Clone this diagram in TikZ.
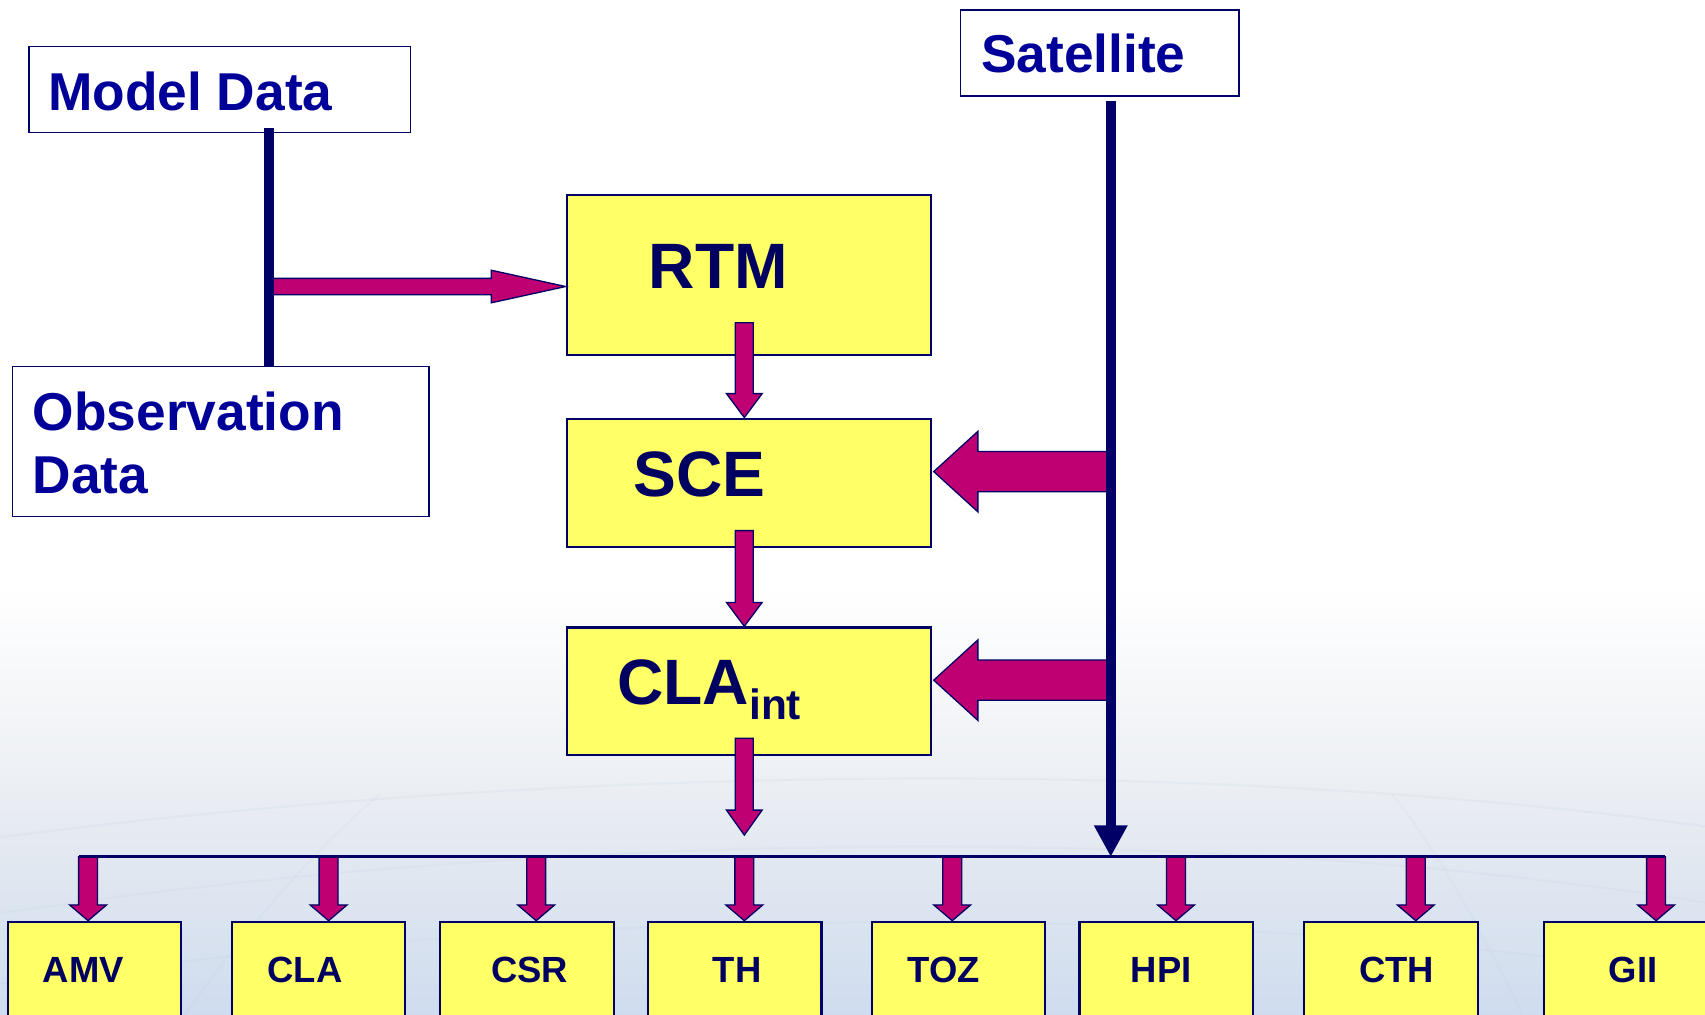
\documentclass[tikz,border=0pt]{standalone}
\usepackage{fontspec}
\setmainfont{Liberation Sans}
\usetikzlibrary{calc,arrows.meta}

\definecolor{navyln}{HTML}{000066}
\definecolor{navytx}{HTML}{000099}
\definecolor{boxtx}{HTML}{000060}
\definecolor{magent}{HTML}{BF0073}
\definecolor{boxyel}{HTML}{FFFF66}
\definecolor{bgone}{HTML}{EEF1F5}
\definecolor{bgtwo}{HTML}{E2E8F0}
\definecolor{bgthree}{HTML}{CFDCEF}
\definecolor{gridln}{HTML}{B9C6D8}

% block arrows: #1 start, #2 tip, #3 shaft half width, #4 head half width, #5 head length
\newcommand{\blockdown}[5]{%
  \path[blockarrow] let \p1=#1, \p2=#2 in
    (\x2-#3,\y1) -- (\x2+#3,\y1) -- (\x2+#3,\y2+#5) -- (\x2+#4,\y2+#5) --
    (\x2,\y2) -- (\x2-#4,\y2+#5) -- (\x2-#3,\y2+#5) -- cycle;}
\newcommand{\blockleft}[5]{%
  \path[blockarrow] let \p1=#1, \p2=#2 in
    (\x1,\y2+#3) -- (\x2+#5,\y2+#3) -- (\x2+#5,\y2+#4) -- (\x2,\y2) --
    (\x2+#5,\y2-#4) -- (\x2+#5,\y2-#3) -- (\x1,\y2-#3) -- cycle;}
\newcommand{\blockright}[5]{%
  \path[blockarrow] let \p1=#1, \p2=#2 in
    (\x1,\y2+#3) -- (\x2-#5,\y2+#3) -- (\x2-#5,\y2+#4) -- (\x2,\y2) --
    (\x2-#5,\y2-#4) -- (\x2-#5,\y2-#3) -- (\x1,\y2-#3) -- cycle;}

\begin{document}
\begin{tikzpicture}[x=1pt,y=-1pt,
  wbox/.style={draw=navyln, line width=1.4pt, fill=white, inner sep=0pt},
  ybox/.style={draw=navyln, line width=2pt, fill=boxyel, inner sep=0pt},
  wtxt/.style={anchor=base west, inner sep=0pt, text=navytx,
    font=\bfseries\fontsize{49}{60}\selectfont},
  ytxt/.style={anchor=base west, inner sep=0pt, text=boxtx,
    font=\bfseries\fontsize{59}{70}\selectfont},
  stxt/.style={anchor=base, inner sep=0pt, text=boxtx,
    font=\bfseries\fontsize{33.5}{40}\selectfont},
  blockarrow/.style={fill=magent, draw=navyln, line width=1.2pt, line join=miter},
  trunk/.style={draw=navyln, line width=9pt},
  busline/.style={draw=navyln, line width=2.5pt}]

\useasboundingbox (0,0) rectangle (1568,933);
\clip (0,0) rectangle (1568,933);

% background: white sky fading into pale blue
\fill[white] (0,0) rectangle (1568,933);
\shade[top color=white, bottom color=bgone] (0,540) rectangle (1568,701);
\shade[top color=bgone, bottom color=bgtwo] (0,700) rectangle (1568,791);
\shade[top color=bgtwo, bottom color=bgthree] (0,790) rectangle (1568,933);
\begin{scope}[line width=2pt, gridln]
  \draw[opacity=.14] (0,770) .. controls (500,705) and (1100,695) .. (1568,760);
  \draw[opacity=.12] (0,840) .. controls (500,765) and (1100,755) .. (1568,830);
  \draw[opacity=.12] (0,905) .. controls (500,835) and (1100,825) .. (1568,900);
  \draw[opacity=.10] (170,933) .. controls (230,850) and (290,780) .. (350,730);
  \draw[opacity=.10] (1400,933) .. controls (1360,850) and (1320,780) .. (1280,730);
\end{scope}

% boxes
\node[wbox, minimum width=351pt, minimum height=79pt] (model) at (202,82.4) {};
\node[wbox, minimum width=383pt, minimum height=138pt] (obs) at (203.2,406.1) {};
\node[wbox, minimum width=256pt, minimum height=79pt] (sat) at (1011.3,48.8) {};
\node[ybox, minimum width=335pt, minimum height=147pt] (rtm) at (688.7,253) {};
\node[ybox, minimum width=335pt, minimum height=118pt] (sce) at (688.7,444) {};
\node[ybox, minimum width=335pt, minimum height=117pt] (cla) at (688.7,635.5) {};

\foreach \nm/\lx in {amv/6.3, clab/212.2, csr/403.9, th/595, toz/800.7,
                     hpi/991.8, cth/1198.4, gii/1419}
  \node[ybox, minimum width=159.5pt, minimum height=180pt, anchor=north west]
    (\nm) at (\lx,846.7) {};

% helper points
\coordinate (mj) at (247.5,263.5);
\coordinate (satx) at (1021.5,0);
\coordinate (sp) at (684.5,0);
\coordinate (clatip) at (684.5,768);
\coordinate (busL) at (72.3,788);
\coordinate (busR) at (1531,788);
\coordinate (scetip) at ($(sce.east)+(1.5,-10.3)$);
\coordinate (clatipr) at ($(cla.east)+(1.5,-10)$);

% data feeding the RTM
\blockright{(mj)}{(rtm.west |- mj)}{7.5}{15}{68.5}
\draw[trunk] ($(mj |- model.south)+(0,-4.8)$) -- (mj |- obs.north);

% processing chain
\blockdown{($(sp |- rtm.south)+(0,-30.6)$)}{(sp |- sce.north)}{8.25}{16.4}{22}
\blockdown{($(sp |- sce.south)+(0,-16)$)}{(sp |- cla.north)}{8.25}{16.4}{22}
\blockdown{($(sp |- cla.south)+(0,-16)$)}{(clatip)}{8.25}{16.4}{23}

% satellite input
\blockleft{(satx |- scetip)}{(scetip)}{18.5}{37}{40.6}
\blockleft{(satx |- clatipr)}{(clatipr)}{18.5}{37}{40.6}
\draw[trunk, -{Triangle[width=29pt,length=29pt]}]
  ($(satx |- sat.south)+(0,3.6)$) -- (satx |- busL);

% distribution to the products
\foreach \nm/\ax [count=\i] in {amv/81, clab/302.2, csr/493.1, th/684.5, toz/875.7,
                               hpi/1081.5, cth/1302, gii/1523}{
  \coordinate (t\i) at (\ax,788);
  \blockdown{(t\i)}{(t\i |- \nm.north)}{8.7}{17}{14.5}
}
\draw[busline] (busL) -- (busR);

% labels
\node[wtxt] (modeltxt) at (44.2,101.3) {Model Data};
\node[wtxt] (obstxt) at (30,395.8) {Observation};
\node[wtxt] (obstxtb) at (29.8,453.5) {Data};
\node[wtxt] (sattxt) at (902.2,66.8) {Satellite};
\node[ytxt] (rtmtxt) at (596.6,265.4) {RTM};
\node[ytxt] (scetxt) at (582.2,456.5) {SCE};
\node[ytxt] (clatxt) at (567.6,648) {CLA\raisebox{-14pt}{\fontsize{39}{40}\selectfont int}};

\node[stxt] (amvtxt) at (76.6,903.4) {AMV};
\node[stxt] (clabtxt) at (280.4,903.4) {CLA};
\node[stxt] (csrtxt) at (487,903.4) {CSR};
\node[stxt] (thtxt) at (677.9,903.4) {TH};
\node[stxt] (toztxt) at (868.2,903.4) {TOZ};
\node[stxt] (hpitxt) at (1068,903.4) {HPI};
\node[stxt] (cthtxt) at (1284.4,903.4) {CTH};
\node[stxt] (giitxt) at (1502,903.4) {GII};
\end{tikzpicture}
\end{document}
